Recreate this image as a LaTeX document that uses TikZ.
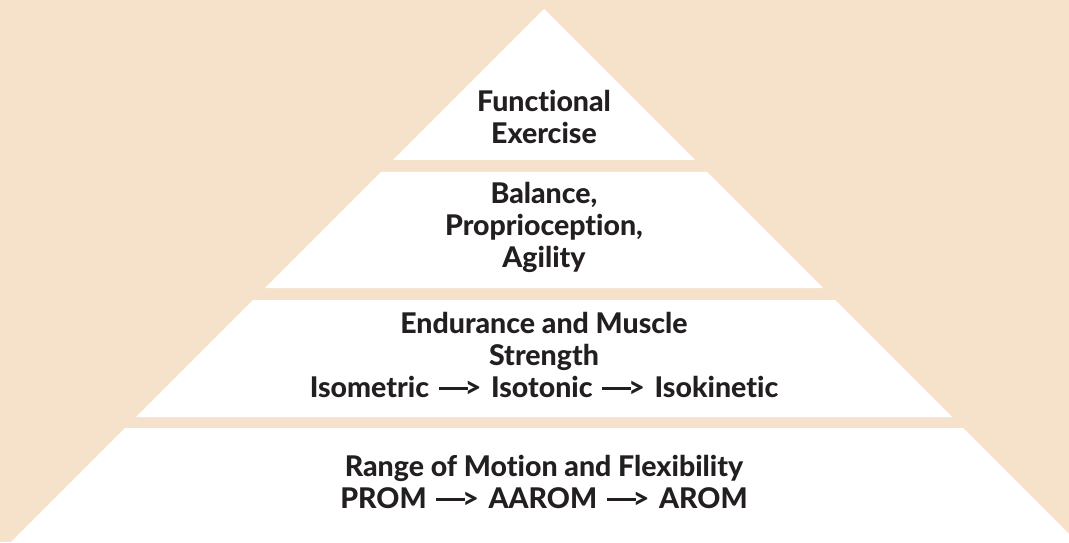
\documentclass[tikz,border=0pt]{standalone}
\usepackage{fontspec}
\setmainfont{Lato}[BoldFont={Lato Heavy},Ligatures={NoCommon}]
\definecolor{beige}{HTML}{F6E2CB}
\definecolor{ink}{HTML}{231F20}
\newcommand\myarrow{\hspace{3pt}\rule[7.5pt]{29pt}{3.4pt}\kern-3pt>\hspace{3pt}}
\begin{document}
\begin{tikzpicture}[x=1pt,y=1pt,
  layer/.style={fill=white,draw=none},
  lbl/.style={align=center,text=ink,font=\fontsize{28.5}{32}\selectfont\bfseries,inner sep=0pt}]
\fill[beige] (0,0) rectangle (1069,542);
\useasboundingbox (0,0) rectangle (1069,542);
\begin{scope}
\clip (0,0) rectangle (1069,542);
\fill[layer] (544,533) -- (393,382) -- (695,382) -- cycle;
\fill[layer] (381,370) -- (707,370) -- (823,254) -- (265,254) -- cycle;
\fill[layer] (253,242) -- (835,242) -- (952,125) -- (136,125) -- cycle;
\fill[layer] (125,114) -- (963,114) -- (1077,0) -- (11,0) -- cycle;
\end{scope}
\node[lbl] (l1) at (544,425) {Functional\\Exercise};
\node[lbl] (l2) at (544,315) {Balance,\\Proprioception,\\Agility};
\node[lbl] (l3) at (544,187) {Endurance and Muscle\\Strength\\Isometric \myarrow{} Isotonic \myarrow{} Isokinetic};
\node[lbl] (l4) at (544,60) {Range of Motion and Flexibility\\PROM \myarrow{} AAROM \myarrow{} AROM};
\end{tikzpicture}
\end{document}
